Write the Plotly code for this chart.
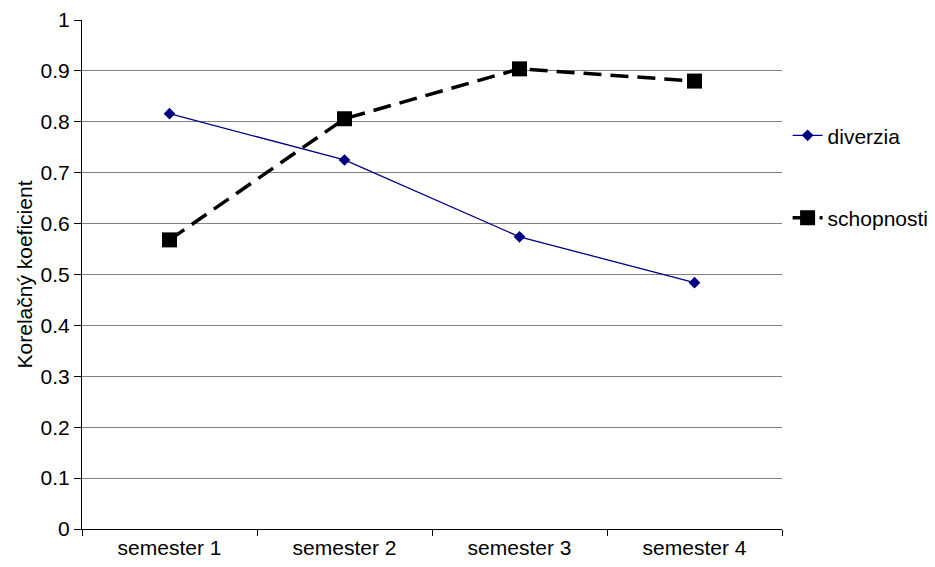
import plotly.graph_objects as go

categories = ["semester 1", "semester 2", "semester 3", "semester 4"]
diverzia = [0.816, 0.725, 0.574, 0.484]
schopnosti = [0.568, 0.806, 0.904, 0.880]
y_ticks = [0, 0.1, 0.2, 0.3, 0.4, 0.5, 0.6, 0.7, 0.8, 0.9, 1]
y_tick_text = ["0", "0.1", "0.2", "0.3", "0.4", "0.5", "0.6", "0.7", "0.8", "0.9", "1"]
grid_vals = [0.1, 0.2, 0.3, 0.4, 0.5, 0.6, 0.7, 0.8, 0.9]

FONT = "Arial, Liberation Sans, sans-serif"
FS = 21

fig = go.Figure()
fig.add_trace(go.Scatter(
    x=categories, y=diverzia, name="diverzia", mode="lines+markers",
    line=dict(color="#000080", width=1.3),
    marker=dict(symbol="diamond", size=9, color="#000080"),
    legendgroup="a", yaxis="y2",
))
fig.add_trace(go.Scatter(
    x=categories, y=schopnosti, name="schopnosti", mode="lines+markers",
    line=dict(color="black", width=3.5, dash="18px,9px"),
    marker=dict(symbol="square", size=15, color="black"),
    legendgroup="b",
))

fig.update_layout(
    width=927, height=559,
    margin=dict(l=74, r=153, t=12, b=38, autoexpand=False),
    paper_bgcolor="white", plot_bgcolor="white",
    font=dict(family=FONT, size=FS, color="black"),
    xaxis=dict(
        type="category", tickson="boundaries", range=[-0.5, 3.5],
        showline=True, linecolor="black", linewidth=1,
        ticks="outside", ticklen=6, tickcolor="black",
        showgrid=False, zeroline=False, automargin=False,
        tickfont=dict(size=FS),
    ),
    yaxis=dict(
        range=[0, 1], tickvals=y_ticks, ticktext=y_tick_text,
        showline=True, linecolor="black", linewidth=1,
        ticks="outside", ticklen=7, tickcolor="black",
        showgrid=False, zeroline=False, automargin=False,
        tickfont=dict(size=FS),
        title=dict(text="Korelačný koeficient", font=dict(size=FS), standoff=2),
    ),
    yaxis2=dict(
        range=[0, 1], overlaying="y", anchor="x", side="left",
        tickvals=grid_vals, showticklabels=False, ticks="",
        showgrid=True, gridcolor="#808080", gridwidth=1,
        showline=False, zeroline=False, automargin=False,
    ),
    showlegend=True,
    legend=dict(
        x=1.008, xanchor="left", y=0.813, yanchor="top",
        traceorder="grouped", tracegroupgap=52,
        font=dict(size=FS), bgcolor="rgba(0,0,0,0)",
    ),
)

fig.write_html("out.html")
